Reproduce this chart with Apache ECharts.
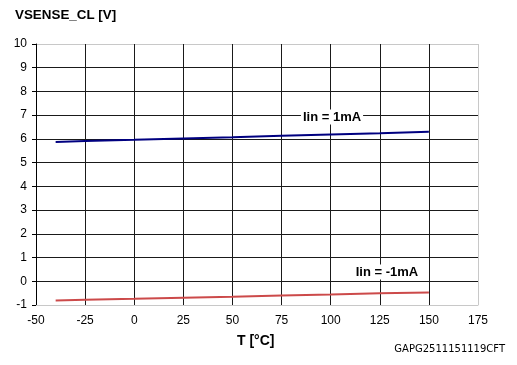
<!DOCTYPE html>
<html>
<head>
<meta charset="utf-8">
<script src="https://cdn.jsdelivr.net/npm/echarts@6/dist/echarts.min.js"></script>
<style>html,body{margin:0;padding:0;background:#fff;}#c{width:517px;height:365px;}</style>
</head>
<body>
<div id="c"></div>
<script>
var temps = [-40, -25, 0, 25, 50, 75, 100, 125, 150];
var vPlus1mA = [5.87, 5.91, 5.96, 6.02, 6.07, 6.13, 6.19, 6.24, 6.30];
var vMinus1mA = [-0.81, -0.78, -0.74, -0.69, -0.65, -0.60, -0.56, -0.51, -0.47];
var seriesNames = ['Iin = 1mA', 'Iin = -1mA'];

function pairs(xs, ys){ return xs.map(function(x,i){return [x, ys[i]];}); }

var F = '"Liberation Sans", Arial, sans-serif';
var chart = echarts.init(document.getElementById('c'), null, {renderer:'canvas'});
var yColors = ['#c8c8c8']; for (var i=0;i<10;i++) yColors.push('#1a1a1a'); yColors.push('#c8c8c8');
var xColors = ['#1a1a1a']; for (var j=0;j<8;j++) xColors.push('#1a1a1a'); xColors.push('#c8c8c8');
chart.setOption({
  animation:false,
  backgroundColor:'#fff',
  grid:{left:36, right:39, top:44, bottom:60, containLabel:false},
  xAxis:{type:'value', min:-50, max:175, interval:25,
    axisLine:{show:true, onZero:false, lineStyle:{color:'#c8c8c8', width:1}},
    axisTick:{show:false},
    axisLabel:{color:'#000', fontFamily:F, fontSize:12, margin:10},
    splitLine:{show:true, lineStyle:{color:xColors, width:1}}
  },
  yAxis:{type:'value', min:-1, max:10, interval:1,
    axisLine:{show:true, onZero:false, lineStyle:{color:'#000', width:1}},
    axisTick:{show:true, length:4, lineStyle:{color:'#000'}},
    axisLabel:{color:'#000', fontFamily:F, fontSize:12, margin:9},
    splitLine:{show:true, lineStyle:{color:yColors, width:1}}
  },
  series:[
    {name:seriesNames[0], type:'line', data:pairs(temps, vPlus1mA), showSymbol:false, symbol:'none',
      lineStyle:{color:'#000080', width:2}, z:5},
    {name:seriesNames[1], type:'line', data:pairs(temps, vMinus1mA), showSymbol:false, symbol:'none',
      lineStyle:{color:'#cc4a4a', width:2}, z:5}
  ],
  graphic:[
    {type:'text', left:15, top:9, style:{text:'VSENSE_CL [V]', font:'bold 13.4px '+F, fill:'#000'}},
    {type:'text', left:237, top:334, style:{text:'T [°C]', font:'bold 14px '+F, fill:'#000'}},
    {type:'text', right:12, top:344, style:{text:'GAPG2511151119CFT', font:'10px "DejaVu Sans", Verdana, sans-serif', fill:'#000'}},
    {type:'text', x:332, y:117, z:10, style:{text:seriesNames[0], font:'bold 13px '+F, fill:'#000', align:'center', verticalAlign:'middle', backgroundColor:'#fff', padding:[1,2]}},
    {type:'text', x:387, y:272, z:10, style:{text:seriesNames[1], font:'bold 13px '+F, fill:'#000', align:'center', verticalAlign:'middle', backgroundColor:'#fff', padding:[1,2]}}
  ]
});
</script>
</body>
</html>
